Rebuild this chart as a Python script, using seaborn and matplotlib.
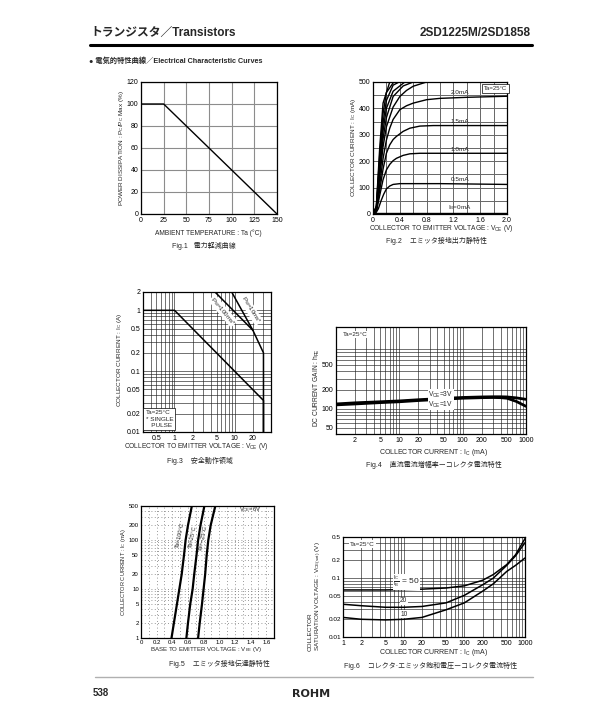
import matplotlib
matplotlib.use("Agg")
import matplotlib.pyplot as plt
import matplotlib.ticker as mt
from matplotlib.lines import Line2D
import seaborn as sns

# Fig.1 power derating
ta_deg = [0, 25, 150]
pc_pct = [100, 100, 0]

# Fig.2 output characteristics (VCE in V, Ic in mA) per base current
v_ib05 = [0, 0.04, 0.08, 0.12, 0.16, 0.2, 0.25, 0.3, 0.4, 1.0, 2.0]
i_ib05 = [0, 3, 20, 50, 75, 95, 106, 112, 115, 115, 112]
v_ib10 = [0, 0.05, 0.1, 0.15, 0.2, 0.25, 0.3, 0.35, 0.45, 0.55, 0.7, 2.0]
i_ib10 = [0, 10, 70, 130, 167, 188, 202, 211, 222, 228, 230, 230]
v_ib15 = [0, 0.05, 0.1, 0.15, 0.2, 0.25, 0.3, 0.35, 0.45, 0.55, 0.7, 0.9, 2.0]
i_ib15 = [0, 12, 90, 170, 230, 262, 282, 294, 313, 325, 333, 335, 335]
v_ib20 = [0, 0.05, 0.1, 0.15, 0.2, 0.25, 0.3, 0.4, 0.5, 0.6, 0.8, 1.0, 1.4, 2.0]
i_ib20 = [0, 15, 110, 210, 280, 325, 358, 395, 410, 420, 433, 438, 442, 446]
v_ib25 = [0, 0.05, 0.1, 0.15, 0.2, 0.3, 0.4, 0.5, 0.6, 0.8]
i_ib25 = [0, 18, 140, 255, 330, 405, 445, 468, 484, 500]
v_ib30 = [0, 0.05, 0.1, 0.15, 0.2, 0.3, 0.45, 0.6]
i_ib30 = [0, 20, 160, 285, 365, 445, 485, 500]
v_ib35 = [0, 0.05, 0.1, 0.15, 0.2, 0.3, 0.475]
i_ib35 = [0, 22, 180, 315, 400, 465, 500]
v_ib40 = [0, 0.05, 0.1, 0.15, 0.2, 0.3, 0.39]
i_ib40 = [0, 25, 200, 345, 430, 488, 500]
v_ib45 = [0, 0.05, 0.1, 0.15, 0.2, 0.31]
i_ib45 = [0, 28, 225, 380, 460, 500]
v_ib50 = [0, 0.05, 0.1, 0.15, 0.25]
i_ib50 = [0, 30, 250, 420, 500]
v_ib00 = [0, 2.0]
i_ib00 = [2, 2]

# Fig.3 safe operating area (VCE in V, Ic in A)
v_dc = [0.3, 1, 30, 30]
i_dc = [1, 1, 0.033, 0.01]
v_pw100 = [4.7, 20]
i_pw100 = [2, 0.47]
v_pw10 = [8.9, 20, 30, 30]
i_pw10 = [2, 0.47, 0.2, 0.01]

# Fig.4 DC current gain vs collector current
ic_gain = [1, 2, 5, 10, 20, 50, 100, 200, 300, 400, 500, 700, 1000]
hfe_3v = [120, 125, 130, 134, 140, 147, 152, 155, 156, 156, 155, 150, 142]
hfe_1v = [116, 120, 126, 130, 136, 143, 148, 151, 152, 151, 148, 132, 110]

# Fig.5 transfer characteristics (Ic in mA, VBE in V)
ic_vbe = [1, 2, 5, 10, 20, 50, 100, 200, 500]
vbe_100c = [0.39, 0.42, 0.46, 0.49, 0.52, 0.55, 0.57, 0.60, 0.65]
vbe_25c = [0.58, 0.60, 0.63, 0.66, 0.68, 0.71, 0.73, 0.76, 0.81]
vbe_m25c = [0.73, 0.75, 0.78, 0.80, 0.82, 0.84, 0.86, 0.89, 0.95]

# Fig.6 saturation voltage vs collector current
ic_sat = [1, 2, 5, 10, 20, 50, 100, 200, 300, 500, 700, 1000]
vsat_50 = [0.063, 0.063, 0.063, 0.064, 0.065, 0.068, 0.074, 0.092, 0.115, 0.17, 0.25, 0.47]
vsat_20 = [0.036, 0.034, 0.032, 0.032, 0.033, 0.038, 0.051, 0.077, 0.10, 0.165, 0.24, 0.40]
vsat_10 = [0.0215, 0.020, 0.0195, 0.020, 0.0215, 0.029, 0.038, 0.06, 0.08, 0.13, 0.165, 0.22]

# ---- style ----
sns.set_theme(style="white")
plt.rcParams['font.family'] = ['Liberation Sans', 'Noto Sans CJK JP']
plt.rcParams['mathtext.default'] = 'regular'
plt.rcParams['axes.edgecolor'] = 'black'
plt.rcParams['axes.linewidth'] = 0.9

W, H = 615, 728
fig = plt.figure(figsize=(W / 100, H / 100), dpi=100)
fig.patch.set_facecolor('white')


def add_ax(l, t, r, b):
    ax = fig.add_axes([l / W, 1 - b / H, (r - l) / W, (b - t) / H])
    ax.tick_params(labelsize=5, length=0, pad=2, colors='black')
    ax.set_xlabel('')
    ax.set_ylabel('')
    return ax


def ptext(x, y, s, **kw):
    kw.setdefault('fontsize', 5)
    kw.setdefault('ha', 'center')
    kw.setdefault('va', 'center')
    fig.text(x / W, 1 - y / H, s, **kw)


def log_grid(ax, color='#222222', lw=0.45):
    for axis in (ax.xaxis, ax.yaxis):
        axis.set_minor_locator(mt.LogLocator(base=10, subs=range(2, 10), numticks=20))
        axis.set_minor_formatter(mt.NullFormatter())
    ax.grid(True, which='both', color=color, lw=lw)


box = dict(facecolor='white', edgecolor='black', lw=0.5, pad=1.2)
wbox = dict(facecolor='white', edgecolor='none', pad=0.3)

# ---- header ----
ptext(90, 33, 'トランジスタ／Transistors', fontsize=8.5, fontweight='bold', ha='left')
ptext(531, 33, '2SD1225M/2SD1858', fontsize=8.5, fontweight='bold', ha='right')
fig.add_artist(Line2D([90 / W, 532 / W], [1 - 45 / H, 1 - 45 / H], color='black', lw=2.2))
ptext(89, 61, '● 電気的特性曲線／Electrical Characteristic Curves', fontsize=5.2,
      fontweight='bold', ha='left')

# ---- Fig.1 ----
ax1 = add_ax(141, 82, 277, 214)
sns.lineplot(x=ta_deg, y=pc_pct, ax=ax1, color='black', lw=1.0)
ax1.set_xlim(0, 150)
ax1.set_ylim(0, 120)
ax1.set_xticks(range(0, 151, 25))
ax1.set_yticks(range(0, 121, 20))
ax1.grid(True, color='#8c8c8c', lw=0.8)
ptext(122, 148, 'POWER DISSIPATION : P$_C$/P$_C$ Max (%)', fontsize=4.6, rotation=90)
ptext(208, 233, 'AMBIENT TEMPERATURE : Ta (°C)', fontsize=4.8)
ptext(204, 246, 'Fig.1   電力軽減曲線', fontsize=5)

# ---- Fig.2 ----
ax2 = add_ax(373, 82, 507, 214)
fig2_curves = [(v_ib00, i_ib00), (v_ib05, i_ib05), (v_ib10, i_ib10), (v_ib15, i_ib15),
               (v_ib20, i_ib20), (v_ib25, i_ib25), (v_ib30, i_ib30), (v_ib35, i_ib35),
               (v_ib40, i_ib40), (v_ib45, i_ib45), (v_ib50, i_ib50)]
for vv, ii in fig2_curves:
    sns.lineplot(x=vv, y=ii, ax=ax2, color='black', lw=1.0, estimator=None, sort=False)
ax2.set_xlim(0, 2.0)
ax2.set_ylim(0, 500)
ax2.set_xticks([0, 0.4, 0.8, 1.2, 1.6, 2.0])
ax2.set_xticklabels(['0', '0.4', '0.8', '1.2', '1.6', '2.0'])
ax2.set_yticks(range(0, 501, 100))
ax2.set_xticks([x / 10 for x in range(0, 21, 2)], minor=True)
ax2.set_yticks(range(0, 501, 50), minor=True)
ax2.grid(True, which='both', color='#666666', lw=0.7)
ptext(354, 147, 'COLLECTOR CURRENT : I$_C$ (mA)', fontsize=4.6, rotation=90)
for lab, yy in [('2.0mA', 446), ('1.5mA', 336), ('1.0mA', 231), ('0.5mA', 116)]:
    ax2.text(1.3, yy + 4, lab, fontsize=4.6, ha='center', va='bottom')
ax2.text(1.3, 6, 'I$_B$=0mA', fontsize=4.6, ha='center', va='bottom')
ax2.text(1.83, 476, 'Ta=25°C', fontsize=4.3, ha='center', va='center', bbox=box)
ptext(441, 228, 'COLLECTOR TO EMITTER VOLTAGE : V$_{CE}$ (V)', fontsize=4.8)
ptext(436, 241, 'Fig.2    エミッタ接地出力静特性', fontsize=5)

# ---- Fig.3 ----
ax3 = add_ax(143, 292, 271, 432)
ax3.set_xscale('log')
ax3.set_yscale('log')
for vv, ii in [(v_dc, i_dc), (v_pw100, i_pw100), (v_pw10, i_pw10)]:
    sns.lineplot(x=vv, y=ii, ax=ax3, color='black', lw=1.1, estimator=None, sort=False)
ax3.set_xlim(0.3, 40)
ax3.set_ylim(0.01, 2)
log_grid(ax3)
ax3.set_xticks([0.5, 1, 2, 5, 10, 20])
ax3.set_xticklabels(['0.5', '1', '2', '5', '10', '20'])
ax3.set_yticks([0.01, 0.02, 0.05, 0.1, 0.2, 0.5, 1, 2])
ax3.set_yticklabels(['0.01', '0.02', '0.05', '0.1', '0.2', '0.5', '1', '2'])
ptext(120, 360, 'COLLECTOR CURRENT : I$_C$ (A)', fontsize=4.6, rotation=90)
ax3.text(0.02, 0.03, 'Ta=25°C\n* SINGLE\n   PULSE', transform=ax3.transAxes, fontsize=4.6,
         ha='left', va='bottom', linespacing=1.3,
         bbox=dict(facecolor='white', edgecolor='black', lw=0.5, pad=1.5))
ptext(223, 311, 'P$_W$=100ms*', fontsize=4.4, rotation=-50,
      bbox=dict(facecolor='white', edgecolor='none', pad=0.2))
ptext(251, 310, 'P$_W$=10ms*', fontsize=4.4, rotation=-58,
      bbox=dict(facecolor='white', edgecolor='none', pad=0.2))
ptext(196, 447, 'COLLECTOR TO EMITTER VOLTAGE : V$_{CE}$ (V)', fontsize=4.8)
ptext(200, 461, 'Fig.3    安全動作領域', fontsize=5)

# ---- Fig.4 ----
ax4 = add_ax(336, 327, 526, 434)
ax4.set_xscale('log')
ax4.set_yscale('log')
sns.lineplot(x=ic_gain, y=hfe_3v, ax=ax4, color='black', lw=2.0, estimator=None)
sns.lineplot(x=ic_gain, y=hfe_1v, ax=ax4, color='black', lw=2.0, estimator=None)
ax4.set_xlim(1, 1000)
ax4.set_ylim(40, 2000)
log_grid(ax4)
ax4.set_xticks([2, 5, 10, 20, 50, 100, 200, 500, 1000])
ax4.set_xticklabels(['2', '5', '10', '20', '50', '100', '200', '500', '1000'])
ax4.set_yticks([50, 100, 200, 500])
ax4.set_yticklabels(['50', '100', '200', '500'])
ptext(317, 388, 'DC CURRENT GAIN : h$_{FE}$', fontsize=4.8, rotation=90)
ax4.text(45, 168, 'V$_{CE}$=3V', fontsize=4.8, ha='center', va='center', bbox=wbox)
ax4.text(45, 118, 'V$_{CE}$=1V', fontsize=4.8, ha='center', va='center', bbox=wbox)
ax4.text(0.035, 0.93, 'Ta=25°C', transform=ax4.transAxes, fontsize=4.6, ha='left',
         va='center', bbox=dict(facecolor='white', edgecolor='none', pad=0.8))
ptext(434, 452, 'COLLECTOR CURRENT : I$_C$ (mA)', fontsize=5)
ptext(434, 465, 'Fig.4    直流電流増幅率ーコレクタ電流特性', fontsize=5)

# ---- Fig.5 ----
ax5 = add_ax(141, 506, 274, 638)
ax5.set_yscale('log')
for vv in [vbe_100c, vbe_25c, vbe_m25c]:
    sns.lineplot(x=vv, y=ic_vbe, ax=ax5, color='black', lw=1.6, estimator=None, sort=False)
ax5.set_xlim(0, 1.7)
ax5.set_ylim(1, 500)
ax5.yaxis.set_minor_locator(mt.LogLocator(base=10, subs=range(2, 10), numticks=20))
ax5.yaxis.set_minor_formatter(mt.NullFormatter())
ax5.set_xticks([x / 10 for x in range(0, 17, 2)])
ax5.set_xticklabels(['0', '0.2', '0.4', '0.6', '0.8', '1.0', '1.2', '1.4', '1.6'])
ax5.set_xticks([x / 10 for x in range(1, 17, 2)], minor=True)
ax5.set_yticks([1, 2, 5, 10, 20, 50, 100, 200, 500])
ax5.set_yticklabels(['1', '2', '5', '10', '20', '50', '100', '200', '500'])
ax5.grid(True, which='both', color='#777777', lw=0.6, ls=(0, (1, 3)))
ax5.tick_params(labelsize=4.3, pad=1.5)
ptext(123, 572, 'COLLECTOR CURRENT : I$_C$ (mA)', fontsize=4.1, rotation=90)
ax5.text(0.50, 130, 'Ta=100°C', fontsize=4.2, rotation=78, ha='center', va='center')
ax5.text(0.665, 120, 'Ta=25°C', fontsize=4.2, rotation=78, ha='center', va='center')
ax5.text(0.80, 110, 'Ta=−25°C', fontsize=4.2, rotation=78, ha='center', va='center')
ax5.text(1.40, 430, 'V$_{CE}$=6V', fontsize=4.2, ha='center', va='center')
ptext(206, 649, 'BASE TO EMITTER VOLTAGE : V$_{BE}$ (V)', fontsize=4.4)
ptext(219, 664, 'Fig.5    エミッタ接地伝達静特性', fontsize=5)

# ---- Fig.6 ----
ax6 = add_ax(343, 537, 525, 637)
ax6.set_xscale('log')
ax6.set_yscale('log')
for vv in [vsat_50, vsat_20, vsat_10]:
    sns.lineplot(x=ic_sat, y=vv, ax=ax6, color='black', lw=1.1, estimator=None)
ax6.set_xlim(1, 1000)
ax6.set_ylim(0.01, 0.5)
log_grid(ax6)
ax6.set_xticks([1, 2, 5, 10, 20, 50, 100, 200, 500, 1000])
ax6.set_xticklabels(['1', '2', '5', '10', '20', '50', '100', '200', '500', '1000'])
ax6.set_yticks([0.01, 0.02, 0.05, 0.1, 0.2, 0.5])
ax6.set_yticklabels(['0.01', '0.02', '0.05', '0.1', '0.2', '0.5'])
ax6.tick_params(axis='y', labelsize=4.6, pad=1.5)
ptext(316, 651, 'COLLECTOR\nSATURATION VOLTAGE : V$_{CE(sat)}$ (V)', fontsize=4.6,
      rotation=90, va='bottom', multialignment='left', linespacing=1.15)
ax6.text(11, 0.086, r'$\frac{I_C}{I_B}$ = 50', fontsize=6, ha='center', va='center',
         bbox=dict(facecolor='white', edgecolor='none', pad=0.1))
ax6.text(10, 0.041, '20', fontsize=4.8, ha='center', va='center', bbox=wbox)
ax6.text(10, 0.0245, '10', fontsize=4.8, ha='center', va='center', bbox=wbox)
ax6.text(0.04, 0.93, 'Ta=25°C', transform=ax6.transAxes, fontsize=4.6, ha='left',
         va='center', bbox=dict(facecolor='white', edgecolor='none', pad=0.8))
ptext(434, 653, 'COLLECTOR CURRENT : I$_C$ (mA)', fontsize=5)
ptext(431, 666, 'Fig.6    コレクタ·エミッタ飽和電圧ーコレクタ電流特性', fontsize=5)

# ---- footer ----
fig.add_artist(Line2D([95 / W, 533 / W], [1 - 677 / H, 1 - 677 / H], color='#b0b0b0', lw=1.0))
ptext(93, 693, '538', fontsize=7, fontweight='bold', ha='left')
ptext(311, 694, 'ROHM', fontsize=8, fontweight='heavy', family='DejaVu Sans')

fig.savefig('out.png', dpi=100, facecolor='white')
